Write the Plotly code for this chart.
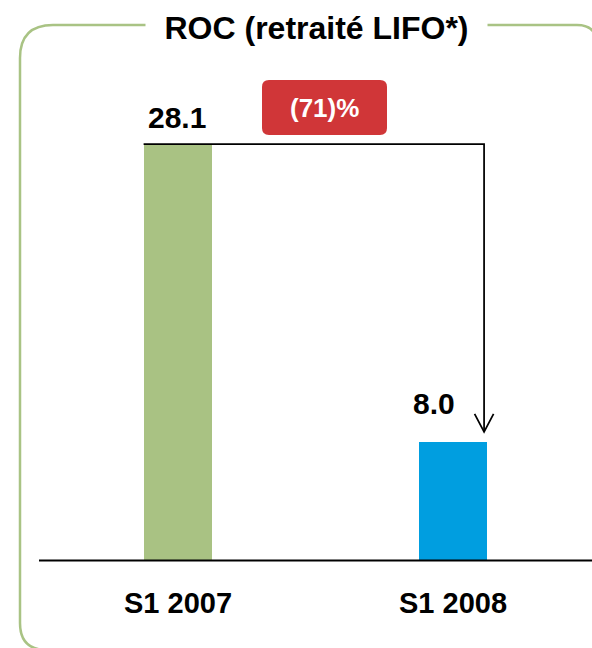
import plotly.graph_objects as go

# ---- data ----
categories = ["S1 2007", "S1 2008"]
values = [28.1, 8.0]
value_labels = ["28.1", "8.0"]
bar_colors = ["#a9c283", "#009ee0"]
change_label = "(71)%"
title_text = "ROC (retraité LIFO*)"

# ---- geometry / style ----
W, H = 592, 648
X_RANGE = [-0.647, 1.505]
Y_RANGE = [-5.904, 37.82]
PX_X = W / (X_RANGE[1] - X_RANGE[0])
PX_Y = H / (Y_RANGE[1] - Y_RANGE[0])
BAR_WIDTH = 0.25
FONT = "Arial, Liberation Sans, sans-serif"
BORDER_COLOR = "#a9c384"
BOX_COLOR = "#d03638"

# per-label pixel offsets (xshift, yshift) for value labels
value_label_offsets = [(-1, 27), (-19, 38)]


def px2paper(px, py):
    return px / W, 1 - py / H


def P(px, py):
    a, b = px2paper(px, py)
    return f"{a:.6f},{b:.6f}"


def rounded_rect_paper(x0, y0, x1, y1, r):
    return (
        f"M {P(x0 + r, y0)} L {P(x1 - r, y0)} Q {P(x1, y0)} {P(x1, y0 + r)} "
        f"L {P(x1, y1 - r)} Q {P(x1, y1)} {P(x1 - r, y1)} "
        f"L {P(x0 + r, y1)} Q {P(x0, y1)} {P(x0, y1 - r)} "
        f"L {P(x0, y0 + r)} Q {P(x0, y0)} {P(x0 + r, y0)} Z"
    )


# open frame path: only the left, top and bottom-left parts fall on the canvas
frame_path = (
    f"M {P(720, 45)} L {P(597, 45)} Q {P(597, 25)} {P(577, 25)} "
    f"L {P(53, 25)} Q {P(20, 25)} {P(20, 58)} "
    f"L {P(20, 623)} Q {P(20, 650)} {P(47, 650)} L {P(720, 650)}"
)

fig = go.Figure()
fig.add_trace(go.Bar(
    x=categories, y=values, width=BAR_WIDTH,
    marker=dict(color=bar_colors, line=dict(width=0)),
    hoverinfo="skip",
))

shapes = []
shapes.append(dict(type="path", xref="paper", yref="paper", path=frame_path,
                   line=dict(color=BORDER_COLOR, width=2.5), layer="below"))
# baseline
shapes.append(dict(type="line", xref="paper", yref="y",
                   x0=39 / W, x1=1, y0=0, y1=0,
                   line=dict(color="black", width=2)))
# connector from bar 1 top to arrow above bar 2
x_start = 0 - BAR_WIDTH / 2
x_arrow = 1 + 31 / PX_X
y_tip = values[1] + 10 / PX_Y
shapes.append(dict(type="path", xref="x", yref="y",
                   path=f"M {x_start},{values[0]} L {x_arrow},{values[0]} L {x_arrow},{y_tip}",
                   line=dict(color="black", width=1.75)))
shapes.append(dict(type="path", xref="x", yref="y",
                   path=(f"M {x_arrow - 9.5 / PX_X},{y_tip + 18 / PX_Y} L {x_arrow},{y_tip} "
                         f"L {x_arrow + 9.5 / PX_X},{y_tip + 18 / PX_Y}"),
                   line=dict(color="black", width=1.75)))
# red change box
shapes.append(dict(type="path", xref="paper", yref="paper",
                   path=rounded_rect_paper(262, 80, 387, 135, 7),
                   fillcolor=BOX_COLOR, line=dict(width=0)))

annotations = []
# title with white background covering the border line
tx, ty = px2paper(316.5, 28)
annotations.append(dict(xref="paper", yref="paper", x=tx, y=ty, text=f"<b>{title_text}</b>",
                        showarrow=False, xanchor="center", yanchor="middle",
                        width=339, bgcolor="white",
                        font=dict(family=FONT, size=32, color="black")))
# change label
cx, cy = px2paper(324.5, 108)
annotations.append(dict(xref="paper", yref="paper", x=cx, y=cy, text=f"<b>{change_label}</b>",
                        showarrow=False, xanchor="center", yanchor="middle",
                        font=dict(family=FONT, size=26, color="white")))
# value labels
for cat, v, lab, (dx, dy) in zip(categories, values, value_labels, value_label_offsets):
    annotations.append(dict(xref="x", yref="y", x=cat, y=v, text=f"<b>{lab}</b>",
                            showarrow=False, xanchor="center", yanchor="middle",
                            xshift=dx, yshift=dy,
                            font=dict(family=FONT, size=30, color="black")))
# category labels
for cat in categories:
    annotations.append(dict(xref="x", yref="y", x=cat, y=0, text=f"<b>{cat}</b>",
                            showarrow=False, xanchor="center", yanchor="middle",
                            yshift=-42.5,
                            font=dict(family=FONT, size=29, color="black")))

fig.update_layout(
    width=W, height=H, autosize=False,
    margin=dict(l=0, r=0, t=0, b=0, pad=0),
    paper_bgcolor="white", plot_bgcolor="white",
    showlegend=False,
    xaxis=dict(visible=False, range=X_RANGE, type="category", fixedrange=True),
    yaxis=dict(visible=False, range=Y_RANGE, fixedrange=True),
    shapes=shapes, annotations=annotations,
    bargap=0,
)

fig.write_html(
    "out.html",
    config={"displayModeBar": False},
    post_script="document.body.style.margin='0';document.body.style.overflow='hidden';",
)
